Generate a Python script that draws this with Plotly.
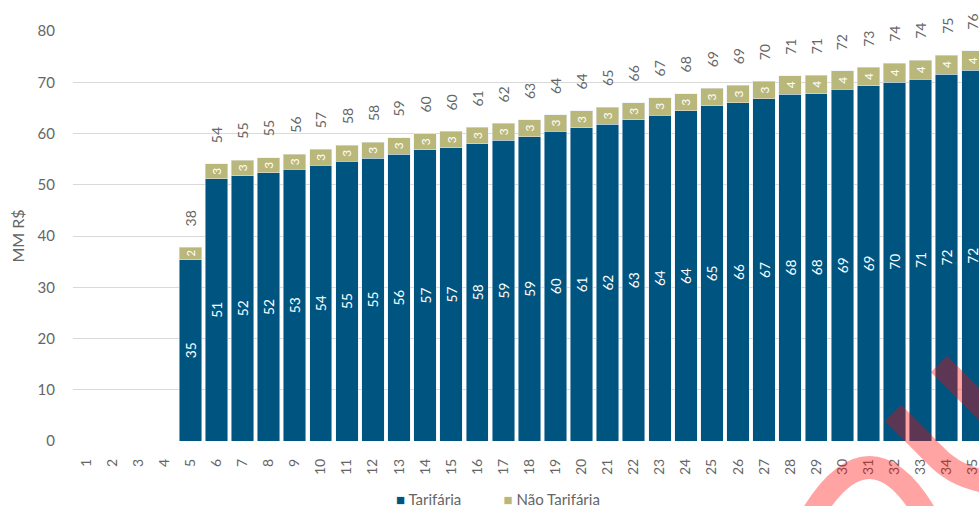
import plotly.graph_objects as go

# Revenue per period, in millions of R$
periods = [str(i) for i in range(1, 36)]
tarifaria = [0, 0, 0, 0, 35.4, 51.2, 51.8, 52.3, 53.0, 53.8, 54.6, 55.2, 56.0, 56.8,
             57.2, 58.0, 58.7, 59.4, 60.4, 61.1, 61.8, 62.7, 63.6, 64.4, 65.4, 66.0,
             66.8, 67.7, 67.8, 68.6, 69.3, 70.0, 70.6, 71.6, 72.3]
nao_tarifaria = [0, 0, 0, 0, 2.45, 2.9, 3.0, 3.0, 3.0, 3.1, 3.1, 3.1, 3.2, 3.2,
                 3.2, 3.2, 3.3, 3.3, 3.3, 3.3, 3.3, 3.3, 3.4, 3.4, 3.4, 3.4,
                 3.4, 3.6, 3.6, 3.6, 3.6, 3.7, 3.7, 3.7, 3.8]
totals = [round(a + b, 2) for a, b in zip(tarifaria, nao_tarifaria)]
series_names = ["Tarifária", "Não Tarifária"]

BLUE = "#005580"
KHAKI = "#bab77b"
GREY = "#666666"
FONT = "Lato"

W, H = 979, 506
ML, MR, MT, MB = 73, 0, 31, 65


def lbl(values):
    return [f"{v:.0f}" if v else "" for v in values]


fig = go.Figure()
fig.add_bar(
    x=periods, y=tarifaria, name=series_names[0], marker_color=BLUE,
    text=lbl(tarifaria), textposition="inside", insidetextanchor="middle",
    textangle=-90, textfont=dict(color="white", size=15, family=FONT),
)
fig.add_bar(
    x=periods, y=nao_tarifaria, name=series_names[1], marker_color=KHAKI,
    text=lbl(nao_tarifaria), textposition="inside", insidetextanchor="middle",
    textangle=-90, textfont=dict(color="white", size=12, family=FONT),
)

# Total above each stacked bar (x given as category index)
for i, t in enumerate(totals):
    if t:
        fig.add_annotation(
            x=i, y=t, text=f"{t:.0f}", textangle=-90, showarrow=False,
            yanchor="bottom", yshift=19, font=dict(color=GREY, size=14, family=FONT),
        )


def to_paper(xp, yp):
    pw, ph = W - ML - MR, H - MT - MB
    return (xp - ML) / pw, ((H - MB) - yp) / ph


def path(cmds):
    out = []
    for c, pts in cmds:
        coords = " ".join(f"{to_paper(x, y)[0]:.4f},{to_paper(x, y)[1]:.4f}" for x, y in pts)
        out.append(f"{c} {coords}")
    return " ".join(out)


# Red stamp strokes over the lower right corner
stamp = dict(color="rgba(255,0,0,0.36)", width=23)
stamp_paths = [
    path([("M", [(939, 364)]), ("L", [(995, 420)])]),
    path([("M", [(893, 413)]), ("L", [(933, 453)]), ("Q", [(955, 478), (990, 482)])]),
    path([("M", [(812, 515)]), ("Q", [(870, 420), (926, 515)])]),
]
for d in stamp_paths:
    fig.add_shape(type="path", path=d, xref="paper", yref="paper", line=stamp,
                  layer="above")

# Compact legend line below the axis
gap = "&nbsp;" * 11
legend_text = (
    f'<span style="color:{BLUE}">■</span> {series_names[0]}'
    f'{gap}'
    f'<span style="color:{KHAKI}">■</span> {series_names[1]}'
)
lx, ly = to_paper(498, 499)
fig.add_annotation(x=lx, y=ly, xref="paper", yref="paper", text=legend_text,
                   showarrow=False, xanchor="center", yanchor="middle",
                   font=dict(size=15, color=GREY, family=FONT))

fig.update_layout(
    width=W, height=H,
    margin=dict(l=ML, r=MR, t=MT, b=MB),
    barmode="stack", bargap=0.14,
    plot_bgcolor="white", paper_bgcolor="white",
    font=dict(family=FONT, color=GREY, size=12),
    showlegend=False,
    xaxis=dict(type="category", range=[-0.5, 34.24], tickangle=-90,
               tickfont=dict(size=14, color=GREY), showgrid=False, showline=False,
               ticklabelstandoff=14),
    yaxis=dict(range=[0, 80], dtick=10, gridcolor="#d9d9d9", gridwidth=1,
               zeroline=False, showline=False, tickfont=dict(size=15, color=GREY),
               ticklabelstandoff=17,
               title=dict(text="MM R$", font=dict(size=16, color=GREY), standoff=8)),
)

fig.write_html("out.html")
